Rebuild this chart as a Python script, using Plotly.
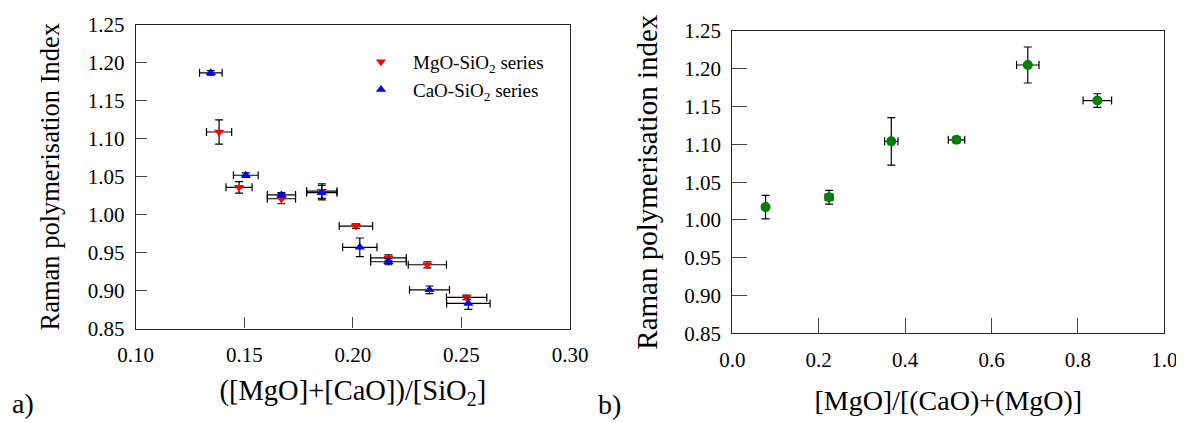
import plotly.graph_objects as go

# ---- Data: panel a) ----
mg_x = [0.1384, 0.1476, 0.1671, 0.1857, 0.2014, 0.2164, 0.2343, 0.2524]
mg_y = [1.109, 1.036, 1.021, 1.031, 0.985, 0.943, 0.934, 0.891]
mg_xerr = [0.0058, 0.0060, 0.0065, 0.0070, 0.0077, 0.0082, 0.0088, 0.0093]
mg_yerr = [0.016, 0.0077, 0.0066, 0.0095, 0.003, 0.004, 0.004, 0.003]

ca_x = [0.1346, 0.1507, 0.1671, 0.1857, 0.2032, 0.2164, 0.2353, 0.2532]
ca_y = [1.187, 1.052, 1.026, 1.029, 0.957, 0.938, 0.901, 0.883]
ca_xerr = [0.0052, 0.0057, 0.0065, 0.0070, 0.0079, 0.0082, 0.0092, 0.0100]
ca_yerr = [0.003, 0.003, 0.003, 0.0095, 0.0123, 0.004, 0.005, 0.0077]

# ---- Data: panel b) ----
b_x = [0.077, 0.224, 0.368, 0.519, 0.684, 0.845]
b_y = [1.017, 1.030, 1.104, 1.106, 1.205, 1.158]
b_xerr = [0.0, 0.009, 0.0155, 0.019, 0.026, 0.033]
b_yerr = [0.0156, 0.0092, 0.0315, 0.004, 0.0238, 0.009]

a_xticks = [0.10, 0.15, 0.20, 0.25, 0.30]
b_xticks = [0.0, 0.2, 0.4, 0.6, 0.8, 1.0]
yticks = [0.85, 0.90, 0.95, 1.00, 1.05, 1.10, 1.15, 1.20, 1.25]

FONT = "Liberation Serif"
OFF = 8            # default page margin around the plot div
W, H = 1184 - OFF, 423 - OFF

def err(arr):
    return dict(type="data", array=arr, visible=True, color="black",
                thickness=1.2, width=4)

fig = go.Figure()
fig.add_trace(go.Scatter(
    x=mg_x, y=mg_y, mode="markers", name="MgO-SiO<sub>2</sub> series",
    marker=dict(symbol="triangle-down", size=9, color="#ff0000"),
    error_x=err(mg_xerr), error_y=err(mg_yerr), xaxis="x", yaxis="y"))
fig.add_trace(go.Scatter(
    x=ca_x, y=ca_y, mode="markers", name="CaO-SiO<sub>2</sub> series",
    marker=dict(symbol="triangle-up", size=9, color="#0000ff"),
    error_x=err(ca_xerr), error_y=err(ca_yerr), xaxis="x", yaxis="y"))
fig.add_trace(go.Scatter(
    x=b_x, y=b_y, mode="markers", showlegend=False,
    marker=dict(symbol="circle", size=10, color="#008000"),
    error_x=err(b_xerr), error_y=err(b_yerr), xaxis="x2", yaxis="y2"))

def px_x(p):
    return (p - OFF) / W

def px_y(p):
    return 1 - (p - OFF) / H

common = dict(showline=True, mirror=True, linecolor="#222", linewidth=1.2,
              ticks="inside", tickcolor="#444", tickwidth=1.2,
              showgrid=False, zeroline=False, automargin=False,
              tickfont=dict(family=FONT, size=21, color="black"))

fig.update_layout(
    width=W, height=H, autosize=False,
    margin=dict(l=0, r=0, t=0, b=0, pad=0, autoexpand=False),
    paper_bgcolor="white", plot_bgcolor="white",
    font=dict(family=FONT, color="black"),
    xaxis=dict(domain=[px_x(135.7), px_x(570)], range=[0.10, 0.30],
               tickvals=a_xticks, ticktext=[f"{v:.2f}" for v in a_xticks],
               ticklen=11, anchor="y", ticklabelstandoff=7,
               title=dict(text="([MgO]+[CaO])/[SiO<sub>2</sub>]",
                          font=dict(family=FONT, size=28.5, color="black"),
                          standoff=14),
               **common),
    yaxis=dict(domain=[px_y(328.5), px_y(25)], range=[0.85, 1.25],
               tickvals=yticks, ticktext=[f"{v:.2f}" for v in yticks],
               ticklen=11, anchor="x", ticklabelstandoff=6,
               title=dict(text="Raman polymerisation Index",
                          font=dict(family=FONT, size=26.5, color="black"),
                          standoff=20),
               **common),
    xaxis2=dict(domain=[px_x(732.3), px_x(1164.3)], range=[0.0, 1.0],
                tickvals=b_xticks, ticktext=[f"{v:.1f}" for v in b_xticks],
                ticklen=15, anchor="y2", ticklabelstandoff=7,
                title=dict(text="[MgO]/[(CaO)+(MgO)]",
                           font=dict(family=FONT, size=28, color="black"),
                           standoff=19),
                **common),
    yaxis2=dict(domain=[px_y(333.3), px_y(31)], range=[0.85, 1.25],
                tickvals=yticks, ticktext=[f"{v:.2f}" for v in yticks],
                ticklen=15, anchor="x2", ticklabelstandoff=6,
                title=dict(text="Raman polymerisation index",
                           font=dict(family=FONT, size=29, color="black"),
                           standoff=18),
                **common),
    legend=dict(x=px_x(349), y=px_y(43), xanchor="left", yanchor="top",
                bgcolor="rgba(0,0,0,0)", itemwidth=54,
                font=dict(family=FONT, size=19, color="black"),
                tracegroupgap=0),
    annotations=[
        dict(text="a)", x=px_x(10), y=px_y(403), xref="paper", yref="paper",
             xanchor="left", yanchor="middle", showarrow=False,
             font=dict(family=FONT, size=28, color="black")),
        dict(text="b)", x=px_x(596), y=px_y(404), xref="paper", yref="paper",
             xanchor="left", yanchor="middle", showarrow=False,
             font=dict(family=FONT, size=28, color="black")),
    ],
)

fig.write_html("out.html")
